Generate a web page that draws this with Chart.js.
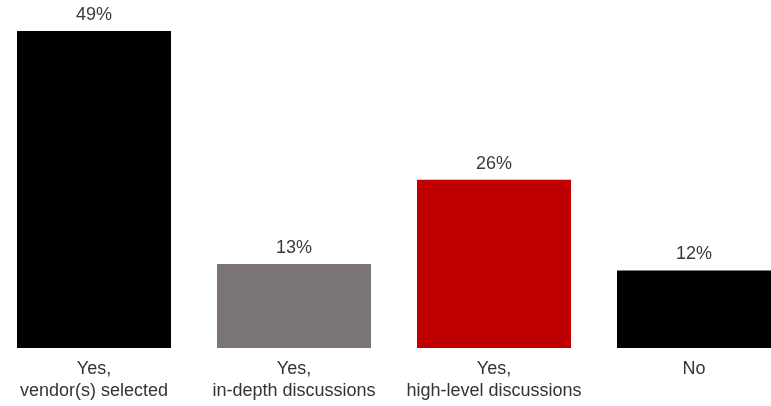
<!DOCTYPE html>
<html>
<head>
<meta charset="utf-8">
<script src="https://cdn.jsdelivr.net/npm/chart.js@4"></script>
<style>
  html, body { margin: 0; padding: 0; background: #fff; overflow: hidden; }
  #wrap { position: absolute; left: -6px; top: 0; width: 800px; height: 410px; }
</style>
</head>
<body>
<div id="wrap"><canvas id="chart"></canvas></div>
<script>
const categories = [
  ["Yes,", "vendor(s) selected"],
  ["Yes,", "in-depth discussions"],
  ["Yes,", "high-level discussions"],
  ["No"]
];
const values = [49, 13, 26, 12];
const barColors = ["#000000", "#7a7574", "#c00000", "#000000"];

// percent labels above each bar
const valueLabels = {
  id: "valueLabels",
  afterDatasetsDraw(chart) {
    const ctx = chart.ctx;
    const meta = chart.getDatasetMeta(0);
    ctx.save();
    ctx.font = "18px Arial, 'Liberation Sans', sans-serif";
    ctx.fillStyle = "#3a3a3a";
    ctx.textAlign = "center";
    ctx.textBaseline = "middle";
    meta.data.forEach((bar, i) => {
      ctx.fillText(values[i] + "%", bar.x, bar.y - 16);
    });
    ctx.restore();
  }
};

new Chart(document.getElementById("chart"), {
  type: "bar",
  data: {
    labels: categories,
    datasets: [{
      data: values,
      backgroundColor: barColors,
      barPercentage: 0.77,
      categoryPercentage: 1.0
    }]
  },
  options: {
    responsive: true,
    maintainAspectRatio: false,
    animation: false,
    layout: { padding: { top: 31, bottom: 6, left: 0, right: 0 } },
    plugins: { legend: { display: false }, tooltip: { enabled: false } },
    scales: {
      x: {
        grid: { display: false },
        border: { display: false },
        ticks: {
          color: "#333333",
          padding: 2,
          maxRotation: 0,
          autoSkip: false,
          font: { family: "Arial, 'Liberation Sans', sans-serif", size: 18, lineHeight: 1.22 }
        }
      },
      y: {
        display: false,
        min: 0,
        max: 49
      }
    }
  },
  plugins: [valueLabels]
});
</script>
</body>
</html>
